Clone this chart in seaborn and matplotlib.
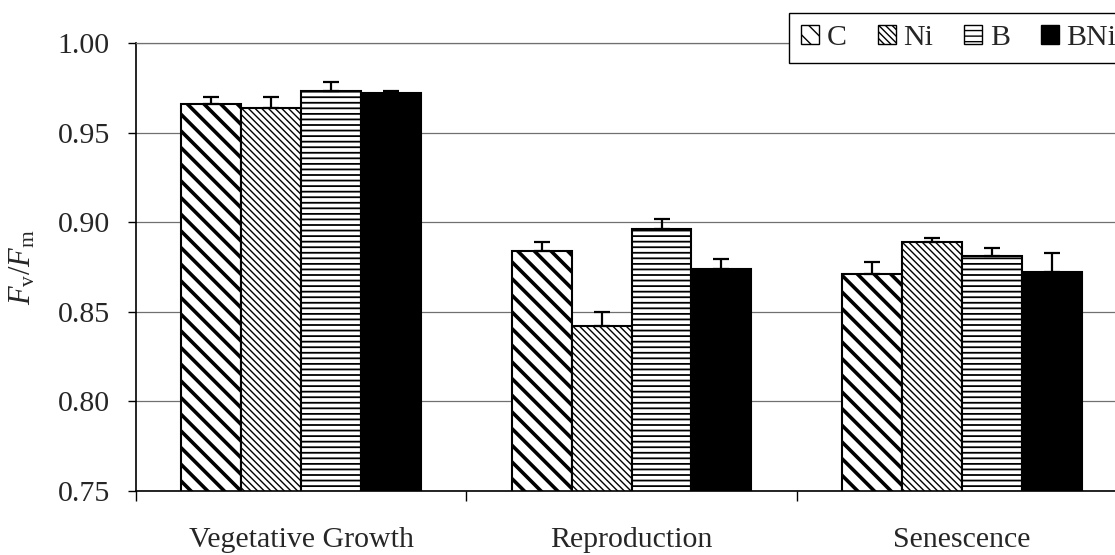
import matplotlib
matplotlib.use("Agg")
import matplotlib.pyplot as plt
from matplotlib.patches import Patch
from matplotlib.ticker import FormatStrFormatter
import seaborn as sns
import pandas as pd

# Growth stages and treatments
stages = ["Vegetative Growth", "Reproduction", "Senescence"]
treatments = ["C", "Ni", "B", "BNi"]

# Mean Fv/Fm per treatment, one value per stage
fvfm_C = [0.966, 0.884, 0.871]
fvfm_Ni = [0.964, 0.842, 0.889]
fvfm_B = [0.973, 0.896, 0.881]
fvfm_BNi = [0.972, 0.874, 0.872]

# Upper error (standard error) per treatment
se_C = [0.004, 0.005, 0.007]
se_Ni = [0.006, 0.008, 0.002]
se_B = [0.0055, 0.006, 0.0045]
se_BNi = [0.001, 0.0055, 0.011]

y_ticks = [0.75, 0.80, 0.85, 0.90, 0.95, 1.00]

means = {"C": fvfm_C, "Ni": fvfm_Ni, "B": fvfm_B, "BNi": fvfm_BNi}
errors = {"C": se_C, "Ni": se_Ni, "B": se_B, "BNi": se_BNi}

rows = []
for t in treatments:
    for s, v in zip(stages, means[t]):
        rows.append({"stage": s, "treatment": t, "fvfm": v})
df = pd.DataFrame(rows)

sns.set_theme(style="white")
plt.rcParams["font.family"] = ["Liberation Serif", "DejaVu Serif"]
plt.rcParams["mathtext.fontset"] = "custom"
plt.rcParams["mathtext.rm"] = "Liberation Serif"
plt.rcParams["mathtext.it"] = "Liberation Serif:italic"
plt.rcParams["hatch.color"] = "black"

FS = 21.5

face = {"C": "white", "Ni": "white", "B": "white", "BNi": "black"}
hatch = {"C": "\\\\", "Ni": "\\\\\\\\\\", "B": "---", "BNi": None}
hatch_lw = {"C": 2.6, "Ni": 1.0, "B": 1.3, "BNi": 1.0}

fig = plt.figure(figsize=(11.15, 5.55), dpi=100)
ax = fig.add_axes([0.1220, 0.1153, 0.8888, 0.8072])

sns.barplot(data=df, x="stage", y="fvfm", hue="treatment", order=stages,
            hue_order=treatments, palette=face, width=0.726, gap=0,
            errorbar=None, edgecolor="black", linewidth=1.5, legend=False,
            saturation=1, ax=ax)

for cont, t in zip(ax.containers, treatments):
    xs, ys = [], []
    for bar in cont:
        if hatch[t]:
            bar.set_hatch(hatch[t])
            if hasattr(bar, "set_hatch_linewidth"):
                bar.set_hatch_linewidth(hatch_lw[t])
        xs.append(bar.get_x() + bar.get_width() / 2)
        ys.append(bar.get_height())
    ax.errorbar(xs, ys, yerr=[[0] * len(xs), errors[t]], fmt="none",
                ecolor="black", elinewidth=1.6, capsize=5.8, capthick=1.6,
                zorder=3)

ax.set_ylim(0.75, 1.00)
ax.set_xlim(-0.5, 2.5)
ax.set_yticks(y_ticks)
ax.yaxis.set_major_formatter(FormatStrFormatter("%.2f"))
ax.set_xticks(range(len(stages)))
ax.set_xticklabels(stages)
ax.set_xticks([-0.5, 0.5, 1.5, 2.5], minor=True)
ax.tick_params(axis="x", which="major", length=0, pad=26, labelsize=FS)
ax.tick_params(axis="x", which="minor", length=7.5, width=1.0,
               direction="out", bottom=True, color="black")
ax.tick_params(axis="y", length=6, width=1.0, direction="out", left=True,
               pad=13, labelsize=FS, color="black")

ax.yaxis.grid(True, color="#707070", linewidth=0.9)
ax.set_axisbelow(True)

for side in ["left", "bottom"]:
    ax.spines[side].set_color("black")
    ax.spines[side].set_linewidth(1.2)
ax.spines["top"].set_color("#707070")
ax.spines["top"].set_linewidth(0.9)
ax.spines["right"].set_visible(False)

ax.set_xlabel("")
ax.set_ylabel(r"$F_{\rm v}/F_{\rm m}$", fontsize=22)
ax.yaxis.set_label_coords(-0.099, 0.5)

handles = []
for t in treatments:
    p = Patch(facecolor=face[t], edgecolor="black", hatch=hatch[t],
              linewidth=1.0)
    handles.append(p)
leg = fig.legend(handles, treatments, loc="upper left",
                 bbox_to_anchor=(789 / 1115, 1 - 13 / 555), ncol=4,
                 frameon=True, fancybox=False, edgecolor="black",
                 framealpha=1, handlelength=0.6, handleheight=0.6,
                 handletextpad=0.25, columnspacing=1.05, borderpad=0.4,
                 borderaxespad=0, fontsize=FS)
leg.get_frame().set_linewidth(1.0)

fig.savefig("out.png", dpi=100)
